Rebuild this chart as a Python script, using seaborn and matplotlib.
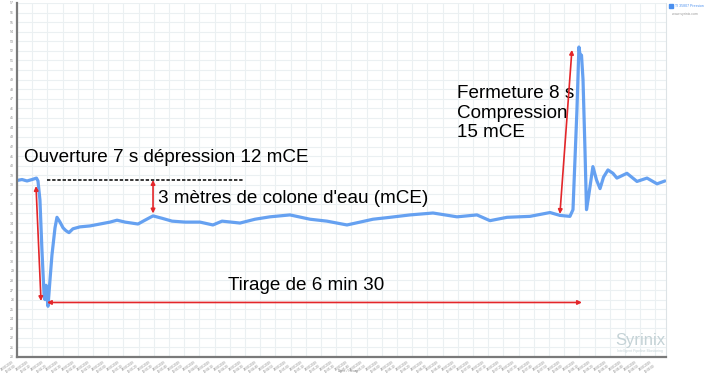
import matplotlib
matplotlib.use("Agg")
import matplotlib.pyplot as plt
import seaborn as sns
import pandas as pd

# time (s) and pressure (m)
time_s = [0, 3.3, 6.6, 9.9, 12.8, 13.8, 15.1, 16.4, 17.8, 18.4, 19.1, 19.7, 20.4, 21.7, 23.0,
          25.0, 26.3, 28.3, 30.3, 32.2, 34.2, 36.8, 41.4, 48.0, 54.6, 61.2, 65.8, 71.1, 79.6,
          84.2, 89.5, 95.4, 102.0, 110.5, 120.4, 128.9, 134.9, 146.7, 156.6, 166.4, 179.6,
          192.8, 203.9, 217.1, 225.7, 234.2, 245.4, 258.6, 273.7, 289.5, 302.6, 311.2, 322.4,
          337.5, 350.7, 357.2, 363.8, 365.8, 367.1, 368.4, 369.7, 370.7, 371.4, 372.4, 373.7,
          374.7, 375.7, 377.0, 378.9, 381.3, 383.6, 385.9, 388.8, 392.1, 394.7, 401.3, 407.9,
          414.5, 421.1, 426.3]
pressure = [38.45, 38.55, 38.4, 38.55, 38.7, 38.4, 36.4, 31.2, 26.5, 26.0, 27.5, 26.3, 25.3,
            28.05, 30.66, 33.5, 34.6, 34.1, 33.5, 33.2, 33.0, 33.4, 33.6, 33.7, 33.9, 34.1,
            34.3, 34.1, 33.9, 34.3, 34.75, 34.5, 34.2, 34.1, 34.1, 33.8, 34.2, 34.0, 34.4,
            34.65, 34.85, 34.4, 34.2, 33.8, 34.1, 34.4, 34.6, 34.85, 35.05, 34.65, 34.85,
            34.25, 34.6, 34.7, 35.1, 34.8, 34.7, 35.4, 40.6, 45.8, 52.4, 51.35, 51.55, 49.0,
            41.6, 35.4, 36.4, 37.8, 39.9, 38.5, 37.6, 38.8, 39.55, 39.2, 38.7, 39.2, 38.35,
            38.7, 38.1, 38.4]

y_ticks = list(range(20, 58))
x_ticks = list(range(0, 430, 10))
x_tick_labels = ["28/03/2019\n10:%02d:%02d" % ((2 * 60 + t) // 60 % 60, (2 * 60 + t) % 60) for t in x_ticks]

series_name = "TI 35807 Pression"
annot_open = "Ouverture 7 s dépression 12 mCE"
annot_level = "3 mètres de colone d'eau (mCE)"
annot_draw = "Tirage de 6 min 30"
annot_close = "Fermeture 8 s\nCompression\n15 mCE"

df = pd.DataFrame({"t": time_s, "p": pressure})

sns.set_theme(style="white")
plt.rcParams['font.family'] = ['Liberation Sans', 'DejaVu Sans']

fig = plt.figure(figsize=(7.09, 3.74), dpi=100)
ax = fig.add_axes([17 / 709, 17 / 374, (666 - 17) / 709, (357 - 3) / 374])

sns.lineplot(data=df, x="t", y="p", ax=ax, color="#5597f0", lw=2.3, alpha=0.9)

ax.set_xlim(0, 427)
ax.set_ylim(20, 57)
ax.set_yticks(y_ticks)
ax.set_yticklabels([str(v) for v in y_ticks], fontsize=2.5, color="#888888")
ax.set_xticks(x_ticks)
ax.set_xticklabels(x_tick_labels, fontsize=2.2, color="#888888", rotation=35, ha="right")
ax.tick_params(axis="both", length=0, pad=2)
ax.grid(True, color="#ebf0f2", lw=0.8)
ax.set_xlabel("Date / Heure", fontsize=2.5, color="#888888", labelpad=1)
ax.xaxis.set_label_coords(0.51, -0.035)
ax.set_ylabel("")

for s in ["left", "bottom"]:
    ax.spines[s].set_color("#7a7a7a")
    ax.spines[s].set_linewidth(1.6)
ax.spines["right"].set_color("#dde3e6")
ax.spines["right"].set_linewidth(0.8)
ax.spines["top"].set_visible(False)

# annotations
fs = 13.6
ax.text(4.6, 40.9, annot_open, fontsize=fs, color="black", va="center", ha="left")
ax.plot([19.7, 148.7], [38.5, 38.5], color="black", lw=1.1, ls=(0, (2.2, 1.2)))
arrow = dict(arrowstyle="<|-|>", color="#e3262a", lw=1.2, mutation_scale=6, shrinkA=0, shrinkB=0)
ax.annotate("", xy=(89.5, 38.5), xytext=(89.5, 35.0), arrowprops=arrow)
ax.text(92.8, 36.6, annot_level, fontsize=fs, color="black", va="center", ha="left")
ax.annotate("", xy=(12.5, 37.87), xytext=(15.8, 25.85), arrowprops=arrow)
ax.annotate("", xy=(19.7, 25.7), xytext=(371.7, 25.7), arrowprops=arrow)
ax.text(138.8, 27.5, annot_draw, fontsize=fs, color="black", va="center", ha="left")
ax.text(289.5, 45.5, annot_close, fontsize=fs, color="black", va="center", ha="left", linespacing=1.2)
ax.annotate("", xy=(357.2, 34.95), xytext=(365.1, 52.1), arrowprops=arrow)

# legend (outside right)
fig.patches.append(plt.Rectangle((669 / 709, 1 - 8 / 374), 4 / 709, 4 / 374,
                                 transform=fig.transFigure, color="#4a8fef", figure=fig))
fig.text(675 / 709, 1 - 6 / 374, series_name, fontsize=2.5, color="#4a8fef", va="center")
fig.text(672 / 709, 1 - 14 / 374, "www.syrinix.com", fontsize=2.5, color="#999999", va="center")

# watermark
fig.text(640 / 709, 1 - 340 / 374, "Syrinix", fontsize=12, color="#c4d2d6", ha="center", va="center")
fig.text(640 / 709, 1 - 351 / 374, "Intelligent Pipeline Monitoring", fontsize=2.5,
         color="#c4d2d6", ha="center", va="center")

fig.savefig("out.png", dpi=100)
